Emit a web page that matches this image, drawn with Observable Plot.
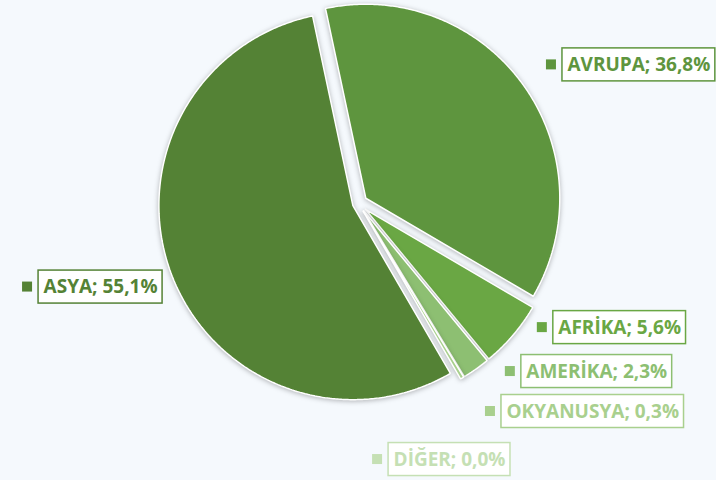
<!DOCTYPE html>
<html><head><meta charset="utf-8">
<script src="https://cdn.jsdelivr.net/npm/d3@7"></script>
<script src="https://cdn.jsdelivr.net/npm/@observablehq/plot@0.6"></script>
<style>
html,body{margin:0;padding:0;background:#f5f9fd;}
</style></head><body><div id="chart"></div>
<script>
// ---- data ----
const regions = ["AVRUPA", "AFRİKA", "AMERİKA", "OKYANUSYA", "DİĞER", "ASYA"];
const shares = [36.8, 5.6, 2.3, 0.3, 0.0, 55.1];
const shareLabels = ["36,8%", "5,6%", "2,3%", "0,3%", "0,0%", "55,1%"];

// ---- style / layout ----
const colors = ["#5e953e", "#6aa744", "#8dbf72", "#a9d08e", "#c5e0b4", "#548235"];
const W = 716, H = 480;
const center = [358, 203], radius = 194, startDeg = -12;
const explode = [9, 9, 9, 9, 9, 6];
const labelAngle = [55.8, 122.5, 135.9, 145.5, 173.3, 246.9];
const labelDist = [246.6, 231, 234, 252.4, 257.8, 213];
const labelGrow = ["right", "right", "right", "right", "right", "left"];
const fontSize = 19, fontFamily = "Open Sans", pad = 5, boxH = 33, markSize = 10, markGap = 6;

const rad = d => d * Math.PI / 180;
const pie = d3.pie().sort(null).startAngle(rad(startDeg)).endAngle(rad(startDeg + 360));
const arcs = pie(shares);

const pt = (c, r, a) => ({x: c[0] + r * Math.sin(a), y: c[1] - r * Math.cos(a)});

const slices = arcs.map((a, i) => {
  const mid = (a.startAngle + a.endAngle) / 2;
  const c = [center[0] + explode[i] * Math.sin(mid), center[1] - explode[i] * Math.cos(mid)];
  const pts = [{x: c[0], y: c[1]}];
  const n = Math.max(2, Math.ceil((a.endAngle - a.startAngle) / rad(0.5)));
  for (let k = 0; k <= n; k++) pts.push(pt(c, radius, a.startAngle + (a.endAngle - a.startAngle) * k / n));
  pts.push({x: c[0], y: c[1]});
  return {i, pts, empty: a.endAngle - a.startAngle < 1e-6};
});

const ctx = document.createElement("canvas").getContext("2d");
ctx.font = `bold ${fontSize}px "${fontFamily}"`;
const labels = regions.map((r, i) => {
  const text = `${r}; ${shareLabels[i]}`;
  const w = ctx.measureText(text).width + 2 * pad;
  const a = pt(center, labelDist[i], rad(labelAngle[i]));
  const x1 = labelGrow[i] === "right" ? a.x : a.x - w;
  return {text, color: colors[i], x1, x2: x1 + w, y1: a.y - boxH / 2, y2: a.y + boxH / 2, cy: a.y,
          mx1: x1 - markGap - markSize, mx2: x1 - markGap, my1: a.y - markSize / 2, my2: a.y + markSize / 2};
});

const sliceMarks = slices.filter(s => !s.empty).map(s =>
  Plot.line(s.pts, {x: "x", y: "y", fill: colors[s.i], stroke: "white", strokeWidth: 1.5, strokeLinejoin: "miter"}));

const chart = Plot.plot({
  width: W, height: H, margin: 0,
  x: {type: "identity", axis: null},
  y: {type: "identity", axis: null},
  color: {type: "identity"},
  style: {background: "#f5f9fd", overflow: "visible"},
  marks: [
    ...sliceMarks,
    Plot.rect(labels, {x1: "mx1", x2: "mx2", y1: "my1", y2: "my2", fill: "color"}),
    Plot.rect(labels, {x1: "x1", x2: "x2", y1: "y1", y2: "y2", fill: "white", stroke: "color", strokeWidth: 1.5}),
    Plot.text(labels, {x: d => d.x1 + pad, y: "cy", text: "text", fill: "color", textAnchor: "start",
      fontSize, fontFamily, fontWeight: "bold", lineAnchor: "middle"})
  ]
});
chart.querySelectorAll('g[aria-label="line"]').forEach(g => g.style.filter = "drop-shadow(0px 1px 2.5px rgba(0,0,0,0.28))");
document.getElementById("chart").appendChild(chart);
</script></body></html>
